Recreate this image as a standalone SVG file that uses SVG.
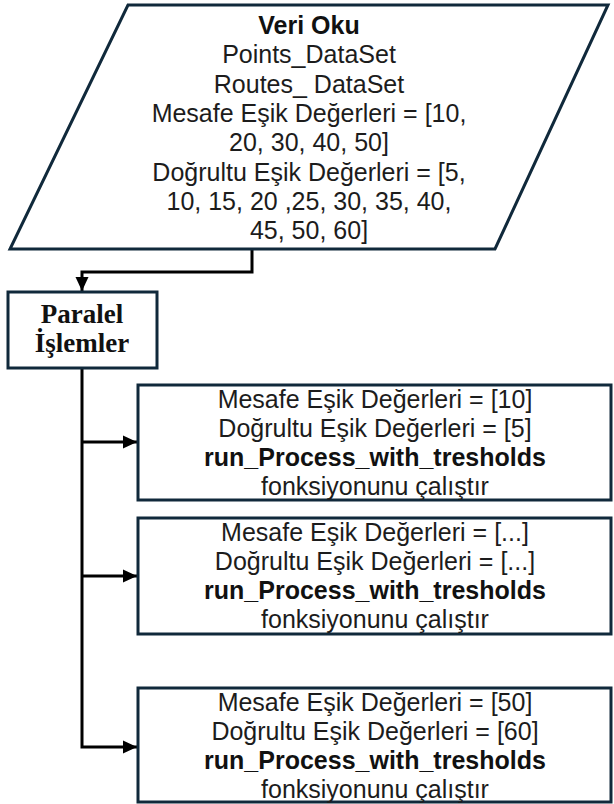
<svg xmlns="http://www.w3.org/2000/svg" width="614" height="804" viewBox="0 0 614 804">
<defs>
<marker id="arr" markerUnits="userSpaceOnUse" markerWidth="14" markerHeight="14" viewBox="0 0 14 14" refX="14" refY="7" orient="auto">
<path d="M0,0.5 L14,7 L0,13.5 z" fill="#000"/>
</marker>
<style>
.shape{fill:#fff;stroke:#10293b;stroke-width:3}
.t{font-family:"Liberation Sans",Arial,sans-serif;font-size:25px;fill:#1c1c1c;text-anchor:middle}
.b{font-weight:bold;fill:#111}
.s{font-family:"Liberation Serif",serif;font-size:27px;font-weight:bold;fill:#111;text-anchor:middle}
.c{fill:none;stroke:#000;stroke-width:3}
</style>
</defs>
<rect width="614" height="804" fill="#fff"/>
<g id="connectors">
<path class="c" d="M252 249 V272 H82 V291" marker-end="url(#arr)"/>
<path class="c" d="M82 368 V747 H137" marker-end="url(#arr)"/>
<path class="c" d="M82 442 H137" marker-end="url(#arr)"/>
<path class="c" d="M82 576 H137" marker-end="url(#arr)"/>
</g>
<g id="veri-oku">
<polygon class="shape" points="128,5 608,5 495,249 10,249"/>
<text class="t b" x="309" y="34">Veri Oku</text>
<text class="t" x="309" y="63">Points_DataSet</text>
<text class="t" x="309" y="93">Routes_ DataSet</text>
<text class="t" x="309" y="122">Mesafe Eşik Değerleri = [10,</text>
<text class="t" x="309" y="151">20, 30, 40, 50]</text>
<text class="t" x="309" y="181">Doğrultu Eşik Değerleri = [5,</text>
<text class="t" x="309" y="210">10, 15, 20 ,25, 30, 35, 40,</text>
<text class="t" x="309" y="239">45, 50, 60]</text>
</g>
<g id="paralel">
<rect class="shape" x="8" y="292" width="149" height="76"/>
<text class="s" x="82" y="323">Paralel</text>
<text class="s" x="82" y="352">İşlemler</text>
</g>
<g id="process-1">
<rect class="shape" x="138" y="385" width="473" height="115"/>
<text class="t" x="375" y="408">Mesafe Eşik Değerleri = [10]</text>
<text class="t" x="375" y="437">Doğrultu Eşik Değerleri = [5]</text>
<text class="t b" x="375" y="466">run_Process_with_tresholds</text>
<text class="t" x="375" y="495">fonksiyonunu çalıştır</text>
</g>
<g id="process-2">
<rect class="shape" x="138" y="518" width="473" height="116"/>
<text class="t" x="375" y="541">Mesafe Eşik Değerleri = [...]</text>
<text class="t" x="375" y="570">Doğrultu Eşik Değerleri = [...]</text>
<text class="t b" x="375" y="599">run_Process_with_tresholds</text>
<text class="t" x="375" y="628">fonksiyonunu çalıştır</text>
</g>
<g id="process-3">
<rect class="shape" x="138" y="688" width="473" height="114"/>
<text class="t" x="375" y="711">Mesafe Eşik Değerleri = [50]</text>
<text class="t" x="375" y="740">Doğrultu Eşik Değerleri = [60]</text>
<text class="t b" x="375" y="769">run_Process_with_tresholds</text>
<text class="t" x="375" y="798">fonksiyonunu çalıştır</text>
</g>
</svg>
